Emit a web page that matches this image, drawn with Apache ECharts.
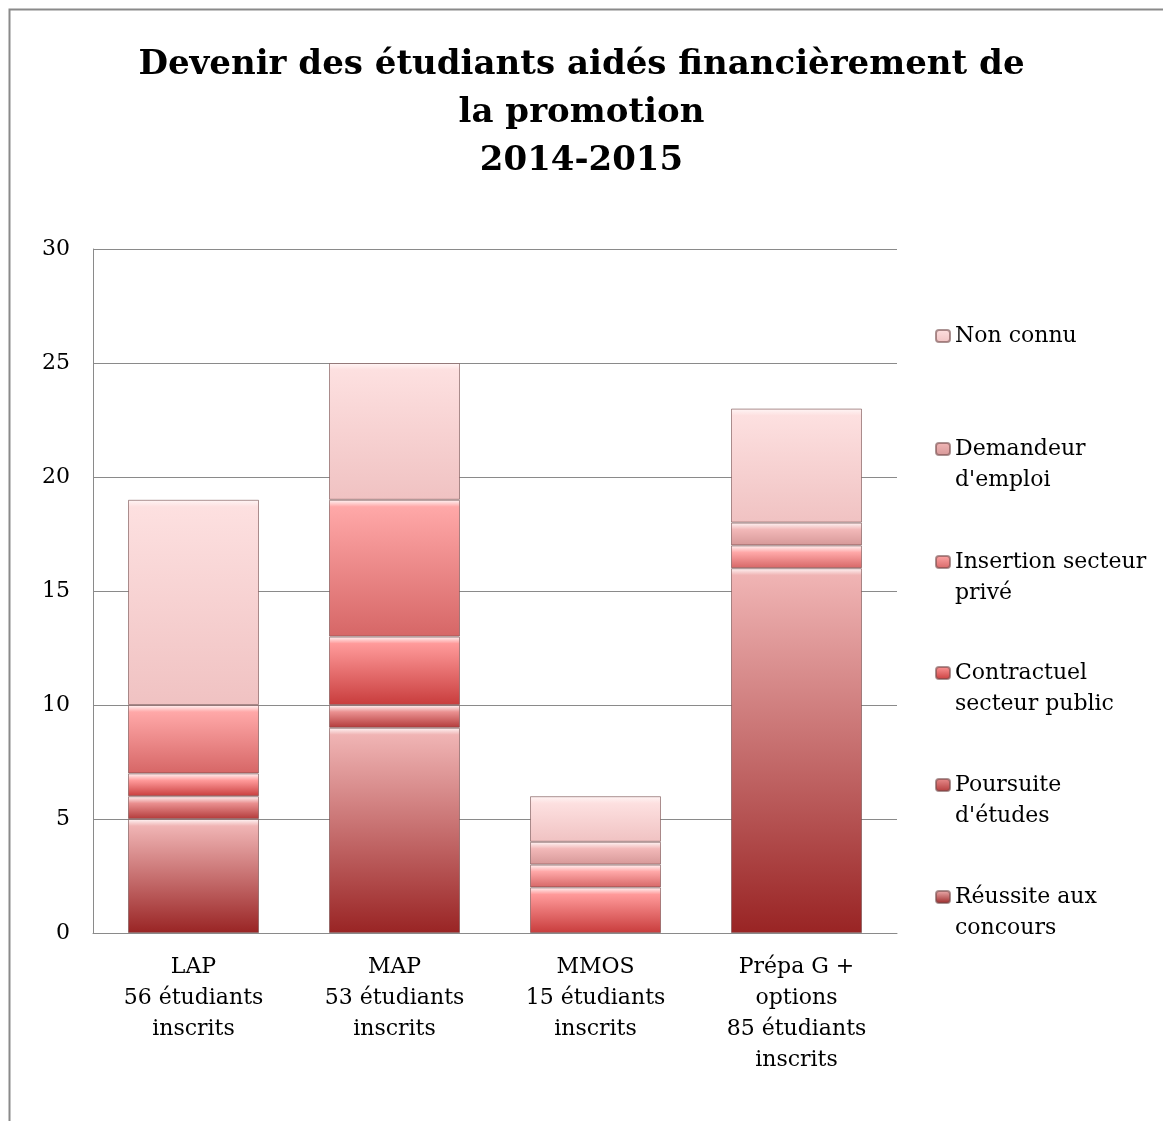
<!DOCTYPE html>
<html>
<head>
<meta charset="utf-8">
<script src="https://cdn.jsdelivr.net/npm/echarts@6/dist/echarts.min.js"></script>
<style>
  html, body { margin: 0; padding: 0; background: #fff; }
  #chart { width: 1163px; height: 1121px; }
</style>
</head>
<body>
<div id="chart"></div>
<script>
// categories (x axis) and series, stacked from bottom to top
const categories = [
  'LAP\n56 étudiants\ninscrits',
  'MAP\n53 étudiants\ninscrits',
  'MMOS\n15 étudiants\ninscrits',
  'Prépa G +\noptions\n85 étudiants\ninscrits'
];
const seriesNames = [
  'Réussite aux\nconcours',
  "Poursuite\nd'études",
  'Contractuel\nsecteur public',
  'Insertion secteur\nprivé',
  "Demandeur\nd'emploi",
  'Non connu'
];
const reussite    = [5, 9, 0, 16];
const poursuite   = [1, 1, 0, 0];
const contractuel = [1, 3, 2, 0];
const insertion   = [3, 6, 1, 1];
const demandeur   = [0, 0, 1, 1];
const nonConnu    = [9, 6, 2, 5];
const yMin = 0, yMax = 30, yStep = 5;

const values = [reussite, poursuite, contractuel, insertion, demandeur, nonConnu];

// couleurs des dégradés (haut -> bas)
const topColors    = ['#f0b4b4', '#ea9090', '#ff9a9a', '#ffa8a8', '#f2b8b8', '#fde0e0'];
const bottomColors = ['#992424', '#b23a3a', '#c83c3c', '#d66666', '#d69898', '#f0c2c2'];
// centre vertical de la 1re ligne de chaque entrée de légende
const legendY = [897, 785, 673, 562, 449, 336];

const gridTop = 249, gridBottom = 188;
const pxPerUnit = (1121 - gridTop - gridBottom) / (yMax - yMin);

const fill = (i, v) => {
  const h = Math.max(v * pxPerUnit, 1);
  const hl = Math.min(0.35, 7 / h);
  return new echarts.graphic.LinearGradient(0, 0, 0, 1, [
    { offset: 0, color: '#fff6f6' },
    { offset: hl, color: topColors[i] },
    { offset: 1, color: bottomColors[i] }
  ]);
};

const font = 'DejaVu Serif';
const myChart = echarts.init(document.getElementById('chart'));

const options = {
  backgroundColor: '#fff',
  animation: false,
  title: {
    text: 'Devenir des étudiants aidés financièrement de\nla promotion\n2014-2015',
    left: 'center',
    top: 36,
    textStyle: {
      fontFamily: font,
      fontWeight: 'bold',
      fontSize: 34,
      lineHeight: 48,
      color: '#000'
    }
  },
  graphic: [
    {
      type: 'rect',
      shape: { x: 9.5, y: 9.5, width: 1300, height: 1300 },
      style: { fill: 'none', stroke: '#8a8a8a', lineWidth: 2 },
      silent: true
    }
  ],
  legend: seriesNames.map((name, i) => {
    const lines = name.indexOf('\n') >= 0 ? 3 : 1;
    return {
      data: [name],
      left: 935,
      top: legendY[i] - lines * 31 / 2,
      padding: 0,
      itemWidth: 14,
      itemHeight: 12,
      itemGap: 0,
      formatter: (n) => (n.indexOf('\n') >= 0 ? '\n' + n : n),
      textStyle: { fontFamily: font, fontSize: 22, lineHeight: 31, color: '#000' }
    };
  }),
  grid: {
    left: 93,
    right: 266,
    top: gridTop,
    bottom: gridBottom
  },
  xAxis: {
    type: 'category',
    data: categories,
    axisLine: { lineStyle: { color: '#8a8a8a', width: 1 } },
    axisTick: { show: false },
    axisLabel: {
      interval: 0,
      margin: 19,
      fontFamily: font,
      fontSize: 22,
      lineHeight: 31,
      color: '#000'
    }
  },
  yAxis: {
    type: 'value',
    min: yMin,
    max: yMax,
    interval: yStep,
    axisLine: { show: true, lineStyle: { color: '#8a8a8a', width: 1 } },
    axisTick: { show: false },
    splitLine: { lineStyle: { color: '#8a8a8a', width: 1 } },
    axisLabel: {
      margin: 23,
      fontFamily: font,
      fontSize: 22,
      color: '#000'
    }
  },
  series: seriesNames.map((name, i) => ({
    name: name,
    type: 'bar',
    stack: 'total',
    barWidth: 131,
    itemStyle: {
      color: new echarts.graphic.LinearGradient(0, 0, 0, 1, [
        { offset: 0, color: topColors[i] },
        { offset: 1, color: bottomColors[i] }
      ]),
      borderColor: 'rgba(115, 75, 75, 0.6)',
      borderWidth: 1
    },
    data: values[i].map((v) => ({
      value: v,
      itemStyle: {
        color: fill(i, v),
        borderWidth: v === 0 ? 0 : 1
      }
    }))
  }))
};

myChart.setOption(options);
</script>
</body>
</html>
